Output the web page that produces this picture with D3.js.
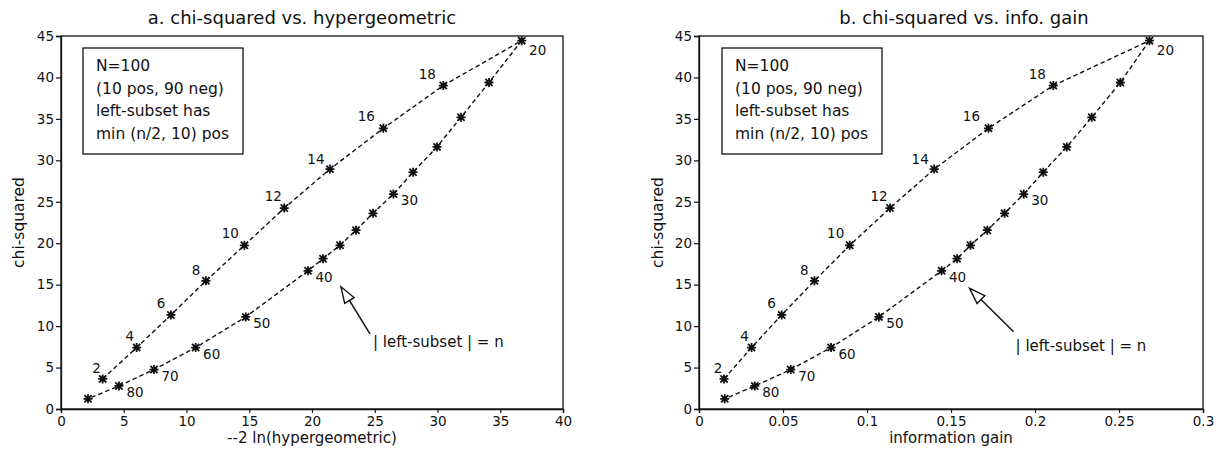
<!DOCTYPE html>
<html><head><meta charset="utf-8">
<script src="https://cdn.jsdelivr.net/npm/d3@7/dist/d3.min.js"></script>
<style>
html,body{margin:0;padding:0;background:#fff;}
svg{display:block;}
text{font-family:"DejaVu Sans",sans-serif;fill:#111;}
</style></head>
<body>
<svg id="chart" width="1219" height="457"></svg>
<script>
// ---- data ----
const nUpper = [2,4,6,8,10,12,14,16,18,20];
const chiUpper = [3.63,7.41,11.35,15.46,19.75,24.24,28.94,33.86,39.02,44.44];
const hyperUpper = [3.32,6.03,8.76,11.55,14.61,17.79,21.43,25.68,30.46,36.71];
const igUpper = [0.0149,0.0313,0.0492,0.0687,0.0897,0.1137,0.1400,0.1723,0.2109,0.2681];

const nLower = [20,22,24,26,28,30,32,34,36,38,40,50,60,70,80,90];
const chiLower = [44.44,39.39,35.19,31.62,28.57,25.93,23.61,21.57,19.75,18.13,16.67,11.11,7.41,4.76,2.78,1.23];
const hyperLower = [36.71,34.10,31.87,29.96,28.05,26.49,24.86,23.51,22.23,20.88,19.68,14.72,10.73,7.41,4.62,2.15];
const igLower = [0.2681,0.2508,0.2338,0.2189,0.2049,0.1933,0.1819,0.1716,0.1616,0.1536,0.1444,0.1071,0.0786,0.0546,0.0332,0.0153];

const labelledUpper = [2,4,6,8,10,12,14,16,18,20];
const labelledLower = [30,40,50,60,70,80];

const yTicks = [0,5,10,15,20,25,30,35,40,45];
const xTicksA = [0,5,10,15,20,25,30,35,40];
const xTicksB = [0,0.05,0.1,0.15,0.2,0.25,0.3];
const xTickLabelsB = ["0","0.05","0.1","0.15","0.2","0.25","0.3"];

const legendLines = ["N=100","(10 pos, 90 neg)","left-subset has","min (n/2, 10) pos"];
const annotation = "| left-subset | = n";

// ---- label offsets (style) ----
const upperDx = {2:-6,4:-7,6:-10,8:-10,10:-14,12:-11,14:-14,16:-17,18:-16,20:16};
const upperDy = {2:-11,4:-12,6:-12,8:-11,10:-12,12:-12,14:-10,16:-12,18:-12,20:9};

const svg = d3.select("#chart");

const panels = [
  {x0:61, x1:563, domain:[0,40], ticks:xTicksA, fmt:d=>String(d),
   xs:[hyperUpper,hyperLower], title:"a.  chi-squared vs. hypergeometric", titleX:302,
   xlabel:"--2 ln(hypergeometric)", ylabX:24, legendX:83,
   tip:[33,16], tail:[62,63], txt:[65,76]},
  {x0:699, x1:1203, domain:[0,0.3], ticks:xTicksB, fmt:(d,i)=>xTickLabelsB[i],
   xs:[igUpper,igLower], title:"b.  chi-squared vs. info. gain", titleX:964,
   xlabel:"information gain", ylabX:663, legendX:722,
   tip:[28,17.5], tail:[72,61], txt:[74,80]}
];

const yTop = 36, yBot = 409;

const markerPath = "M-4.5,0H4.5M0,-4.5V4.5M-3.6,-3.6L3.6,3.6M-3.6,3.6L3.6,-3.6";

panels.forEach(p => {
  const x = d3.scaleLinear().domain(p.domain).range([p.x0, p.x1]);
  const y = d3.scaleLinear().domain([0,45]).range([yBot, yTop]);
  const g = svg.append("g");

  // frame
  g.append("rect").attr("x",p.x0).attr("y",yTop).attr("width",p.x1-p.x0).attr("height",yBot-yTop)
    .attr("fill","none").attr("stroke","#111").attr("stroke-width",1.3);

  // axes
  const xa = g.append("g").attr("transform",`translate(0,${yBot})`)
    .call(d3.axisBottom(x).tickValues(p.ticks).tickFormat(p.fmt).tickSize(4).tickPadding(3));
  const ya = g.append("g").attr("transform",`translate(${p.x0},0)`)
    .call(d3.axisLeft(y).tickValues(yTicks).tickSize(5).tickPadding(2));
  [xa,ya].forEach(a=>{
    a.select(".domain").attr("stroke","#111").attr("stroke-width",1.3);
    a.selectAll(".tick line").attr("stroke","#111").attr("stroke-width",1.2);
    a.selectAll(".tick text").attr("font-family","DejaVu Sans").attr("font-size",13.5).attr("fill","#111");
  });

  // titles
  g.append("text").attr("x",p.titleX).attr("y",24).attr("text-anchor","middle")
    .attr("font-size",18).text(p.title);
  g.append("text").attr("x",(p.x0+p.x1)/2).attr("y",443).attr("text-anchor","middle")
    .attr("font-size",15).text(p.xlabel);
  g.append("text").attr("transform",`translate(${p.ylabX},${(yTop+yBot)/2}) rotate(-90)`)
    .attr("text-anchor","middle").attr("font-size",15.5).text("chi-squared");

  // legend box
  g.append("rect").attr("x",p.legendX).attr("y",48).attr("width",160).attr("height",106)
    .attr("fill","#fff").attr("stroke","#111").attr("stroke-width",1.3);
  legendLines.forEach((t,i)=>{
    g.append("text").attr("x",p.legendX+13).attr("y",71+i*22.5).attr("font-size",15.5).text(t);
  });

  // series
  const upper = nUpper.map((n,i)=>({n, x:p.xs[0][i], y:chiUpper[i]}));
  const lower = nLower.map((n,i)=>({n, x:p.xs[1][i], y:chiLower[i]}));
  const line = d3.line().x(d=>x(d.x)).y(d=>y(d.y));
  [upper,lower].forEach(s=>{
    g.append("path").attr("d",line(s)).attr("fill","none").attr("stroke","#111")
      .attr("stroke-width",1.4).attr("stroke-dasharray","4.5,3");
  });
  const all = upper.concat(lower.slice(1));
  const mk = g.selectAll(".mk").data(all).enter().append("g")
    .attr("transform",d=>`translate(${x(d.x)},${y(d.y)})`);
  mk.append("path").attr("d",markerPath).attr("stroke","#111").attr("stroke-width",1.8);
  mk.append("circle").attr("r",2.4).attr("fill","#111");

  // point labels
  upper.filter(d=>labelledUpper.includes(d.n)).forEach(d=>{
    g.append("text").attr("x",x(d.x)+upperDx[d.n]).attr("y",y(d.y)+upperDy[d.n]+5)
      .attr("text-anchor","middle").attr("font-size",13.5).text(d.n);
  });
  lower.filter(d=>labelledLower.includes(d.n)).forEach(d=>{
    g.append("text").attr("x",x(d.x)+16).attr("y",y(d.y)+6+5)
      .attr("text-anchor","middle").attr("font-size",13.5).text(d.n);
  });

  // annotation arrow anchored to n=40 point
  const p40 = lower.find(d=>d.n===40);
  const px = x(p40.x), py = y(p40.y);
  const tip = [px+p.tip[0], py+p.tip[1]], tail = [px+p.tail[0], py+p.tail[1]];
  const ang = Math.atan2(tail[1]-tip[1], tail[0]-tip[0]);
  const L = 16, W = 5.5;
  const bx = tip[0]+L*Math.cos(ang), by = tip[1]+L*Math.sin(ang);
  const nx = -Math.sin(ang), ny = Math.cos(ang);
  g.append("line").attr("x1",bx).attr("y1",by).attr("x2",tail[0]).attr("y2",tail[1])
    .attr("stroke","#111").attr("stroke-width",1.5);
  g.append("path").attr("d",`M${tip[0]},${tip[1]}L${bx+W*nx},${by+W*ny}L${bx-W*nx},${by-W*ny}Z`)
    .attr("fill","#fff").attr("stroke","#111").attr("stroke-width",1.4);
  g.append("text").attr("x",px+p.txt[0]).attr("y",py+p.txt[1]).attr("font-size",15).text(annotation);
});
</script>
</body></html>
